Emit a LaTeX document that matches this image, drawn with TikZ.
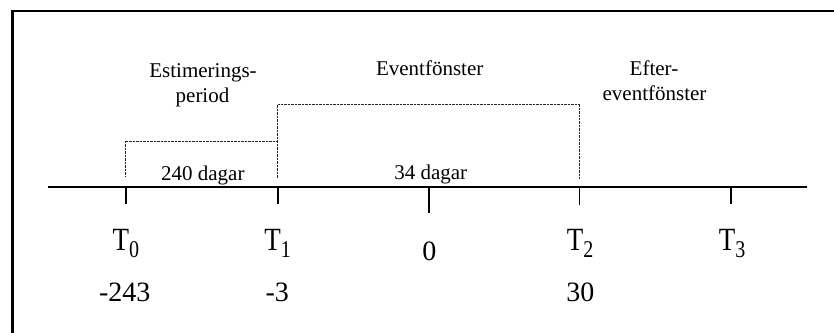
\documentclass[tikz,border=0pt]{standalone}
\usepackage{fontspec}
\setmainfont{Liberation Serif}
\tikzset{
  lbl/.style={anchor=base,inner sep=0pt,font=\fontsize{21}{25}\selectfont},
  tlbl/.style={anchor=base,inner sep=0pt,font=\fontsize{27}{30}\selectfont},
  num/.style={anchor=base,inner sep=0pt,font=\fontsize{28}{32}\selectfont},
  axisline/.style={line width=2pt},
  tickline/.style={line width=1.8pt},
  dotline/.style={line width=1.2pt,dash pattern=on 0.9pt off 0.5pt,black!85},
  frameline/.style={line width=2.4pt}
}
\newcommand{\Tsub}[1]{\scalebox{1}[1.2]{T\raisebox{-0.22em}{\fontsize{20}{20}\selectfont #1}}}
\begin{document}
\begin{tikzpicture}[x=1pt,y=-1pt]
\useasboundingbox (0,0) rectangle (834,332);
% frame (clipped on right and bottom)
\draw[frameline] (12.3,340) -- (12.3,11) -- (840,11);
% axis
\coordinate (ax1) at (48,186.7);
\coordinate (ax2) at (807,186.7);
\draw[axisline] (ax1) -- (ax2);
% ticks
\coordinate (t0) at (125.7,186.7); \coordinate (t0e) at (125.7,203.5);
\coordinate (t1) at (277.7,186.7); \coordinate (t1e) at (277.7,203.5);
\coordinate (z)  at (429.3,186.7); \coordinate (ze)  at (429.3,213);
\coordinate (t2) at (579.5,186.7); \coordinate (t2e) at (579.5,205);
\coordinate (t3) at (731,186.7);   \coordinate (t3e) at (731,203.5);
\draw[tickline] (t0) -- (t0e);
\draw[tickline] (t1) -- (t1e);
\draw[tickline] (z) -- (ze);
\draw[tickline] (t2) -- (t2e);
\draw[tickline] (t3) -- (t3e);
% dotted brackets
\coordinate (a1) at (125.7,176.7);
\coordinate (a2) at (125.7,141.7);
\coordinate (a3) at (277.7,141.7);
\coordinate (b1) at (277.7,178.3);
\coordinate (b2) at (277.7,104.3);
\coordinate (b3) at (579.5,104.3);
\coordinate (b4) at (579.5,178.3);
\draw[dotline] (a1) -- (a2) -- (a3);
\draw[dotline] (b1) -- (b2) -- (b3) -- (b4);
% upper labels
\node[lbl] (est1) at (203,77) {Estimerings-};
\node[lbl] (est2) at (202.5,102) {period};
\node[lbl] (evf) at (429.7,75.5) {Eventfönster};
\node[lbl] (eft1) at (654,75.5) {Efter-};
\node[lbl] (eft2) at (654.5,100.5) {eventfönster};
\node[lbl] (d240) at (202.8,180.7) {240 dagar};
\node[lbl] (d34) at (430.7,179.5) {34 dagar};
% T labels
\node[tlbl] (T0) at (125.8,250) {\Tsub{0}};
\node[tlbl] (T1) at (277.5,250) {\Tsub{1}};
\node[num] (zero) at (429.3,260) {0};
\node[tlbl] (T2) at (580,250) {\Tsub{2}};
\node[tlbl] (T3) at (732,250) {\Tsub{3}};
% numbers
\node[num] (n243) at (124.7,301.7) {-243};
\node[num] (n3) at (277.3,301.7) {-3};
\node[num] (n30) at (580.3,301.7) {30};
\end{tikzpicture}
\end{document}
